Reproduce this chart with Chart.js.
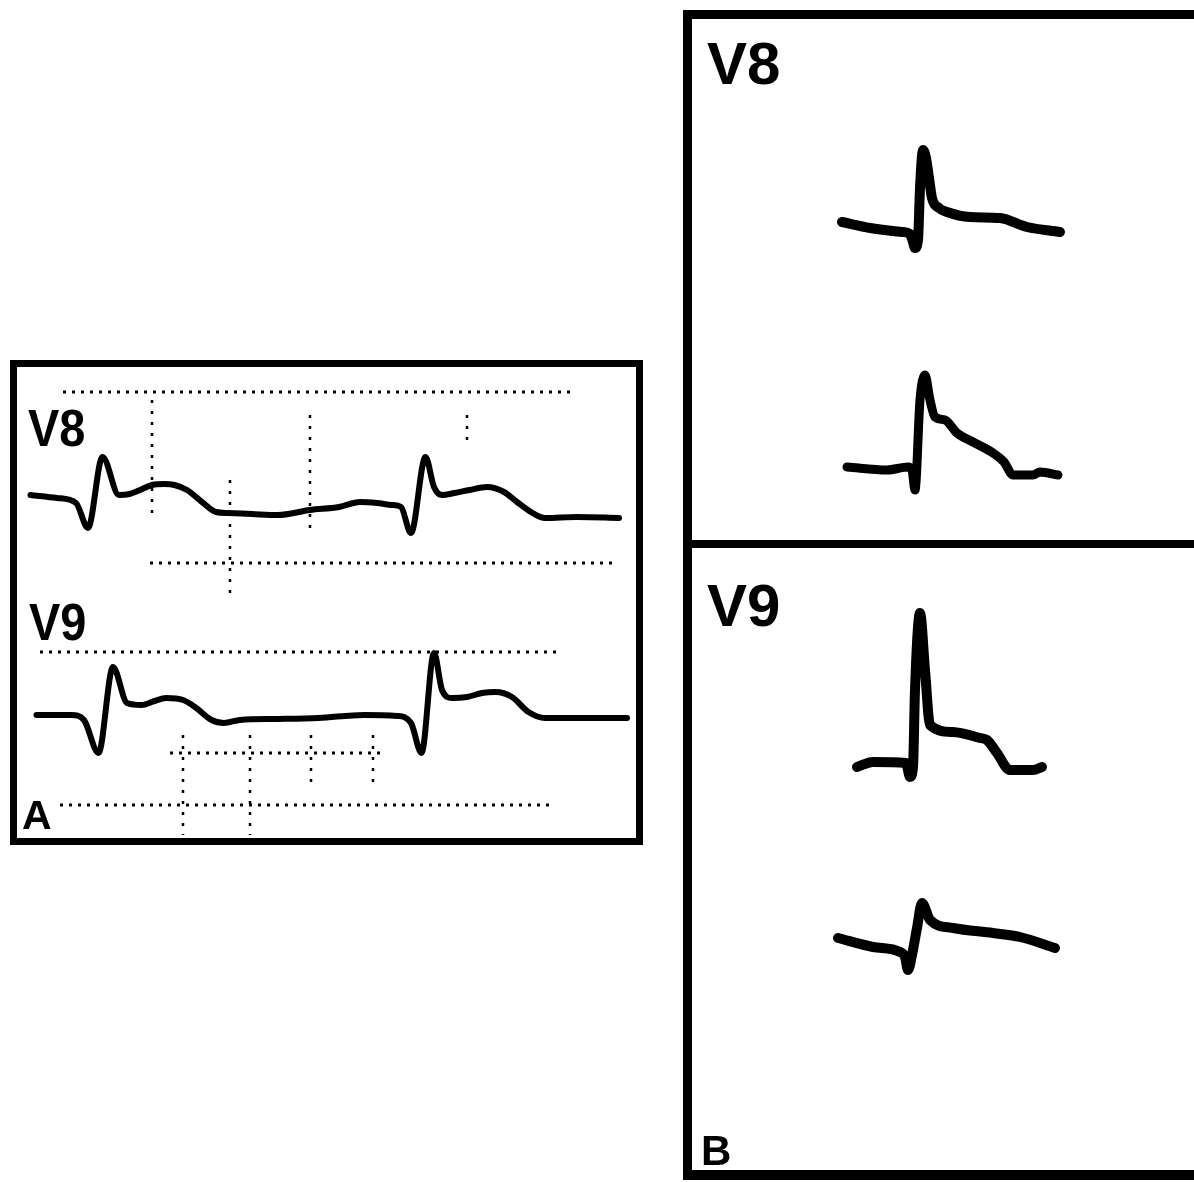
<!DOCTYPE html>
<html>
<head>
<meta charset="utf-8">
<title>V8 / V9 ECG</title>
<script src="https://cdn.jsdelivr.net/npm/chart.js@4.4.1/dist/chart.umd.min.js"></script>
<style>
  html, body { margin: 0; padding: 0; background: #fff; }
  body { width: 1194px; height: 1182px; position: relative; overflow: hidden;
         font-family: "Liberation Sans", Arial, Helvetica, sans-serif; }
  .box { position: absolute; box-sizing: border-box; border: solid #000; }
  .rule { position: absolute; background: #000; }
  .lbl { position: absolute; font-weight: bold; line-height: 1; color: #000; white-space: nowrap; }
  canvas { position: absolute; }
</style>
</head>
<body>
<div class="box" style="left:10px;top:360px;width:633px;height:485px;border-width:7px"></div>
<div class="box" style="left:683px;top:10px;width:511px;height:1170px;border-width:9px 0 10px 9px"></div>
<div class="rule" style="left:683px;top:540px;width:511px;height:8px"></div>

<canvas id="chart-a" width="619" height="471" style="left:17px;top:367px"></canvas>
<canvas id="chart-b8" width="502" height="521" style="left:692px;top:19px"></canvas>
<canvas id="chart-b9" width="502" height="622" style="left:692px;top:548px"></canvas>

<div class="lbl" style="left:28px;top:403px;font-size:51px;transform:scaleX(0.92);transform-origin:left">V8</div>
<div class="lbl" style="left:29px;top:597px;font-size:51px;transform:scaleX(0.92);transform-origin:left">V9</div>
<div class="lbl" style="left:22px;top:795px;font-size:41px">A</div>
<div class="lbl" style="left:707px;top:34px;font-size:60px">V8</div>
<div class="lbl" style="left:707px;top:576px;font-size:60px">V9</div>
<div class="lbl" style="left:701px;top:1130px;font-size:42px">B</div>

<script>
(function () {
  'use strict';

  /* Panel A — two beats per lead, time in ms, amplitude in mV */
  var A_V8_MS = [27, 80, 118, 142, 171, 204, 225, 246, 270, 295, 315, 340, 370, 398, 422, 470, 521, 586, 644, 686, 720, 750, 768, 788, 817, 834, 850, 875, 905, 940, 974, 1000, 1031, 1056, 1120, 1204];
  var A_V8_MV = [0.20, 0.14, 0.04, -0.46, 0.96, 0.20, 0.22, 0.30, 0.40, 0.42, 0.40, 0.30, 0.06, -0.14, -0.16, -0.18, -0.20, -0.10, -0.04, 0.06, 0.04, 0.00, -0.04, -0.56, 0.96, 0.36, 0.20, 0.24, 0.30, 0.36, 0.26, 0.06, -0.16, -0.26, -0.24, -0.26];

  var A_V9_MS = [39, 109, 134, 163, 192, 220, 249, 275, 298, 332, 356, 389, 414, 446, 520, 603, 694, 760, 788, 809, 834, 850, 870, 900, 930, 957, 990, 1023, 1056, 1140, 1220];
  var A_V9_MV = [0.06, 0.06, -0.04, -0.70, 1.02, 0.30, 0.26, 0.34, 0.40, 0.36, 0.22, -0.04, -0.10, -0.04, -0.02, 0.00, 0.06, 0.04, -0.10, -0.70, 1.30, 0.56, 0.40, 0.42, 0.50, 0.52, 0.42, 0.12, 0.00, 0.00, 0.00];

  /* dotted paper marks in panel A: [lead, from ms, to ms, mV] and [lead, ms, from mV, to mV] */
  var A_MARK_ROWS = [
    ['v8', 92, 1114, 2.26],
    ['v8', 266, 1190, -1.16],
    ['v9', 46, 1086, 1.32],
    ['v9', 306, 736, -0.70],
    ['v9', 86, 1066, -1.74]
  ];
  var A_MARK_COLS = [
    ['v8', 270, 2.10, -0.20],
    ['v8', 586, 1.80, -0.50],
    ['v8', 900, 1.80, 1.30],
    ['v8', 426, 0.50, -1.90],
    ['v9', 332, -0.34, -2.34],
    ['v9', 466, -0.34, -2.34],
    ['v9', 588, -0.34, -1.44],
    ['v9', 712, -0.34, -1.44]
  ];

  /* Panel B — single complexes, expanded time base */
  var B_V8_UP_MS = [150, 178, 210, 218, 221, 223, 226, 228, 231, 234, 237, 240, 247, 255, 278, 308, 335, 368];
  var B_V8_UP_MV = [0.06, 0.00, -0.04, -0.06, -0.14, -0.20, -0.12, 0.40, 0.78, 0.70, 0.50, 0.30, 0.20, 0.16, 0.11, 0.10, 0.01, -0.04];

  var B_V8_LO_MS = [155, 195, 216, 220, 223, 228, 233, 238, 243, 253, 265, 281, 301, 312, 321, 341, 348, 366];
  var B_V8_LO_MV = [0.03, 0.00, 0.03, 0.00, -0.20, 0.70, 0.95, 0.70, 0.53, 0.50, 0.37, 0.28, 0.17, 0.08, -0.05, -0.05, -0.02, -0.05];

  var B_V9_UP_MS = [165, 181, 214, 218, 221, 223, 228, 233, 238, 261, 288, 295, 305, 318, 341, 350];
  var B_V9_UP_MV = [-0.02, 0.03, 0.02, -0.12, -0.02, 0.75, 1.52, 0.95, 0.40, 0.33, 0.27, 0.25, 0.12, -0.05, -0.05, -0.02];

  var B_V9_LO_MS = [146, 181, 208, 213, 216, 220, 225, 230, 238, 261, 301, 328, 363];
  var B_V9_LO_MV = [0.07, -0.02, -0.07, -0.12, -0.25, -0.10, 0.17, 0.42, 0.25, 0.17, 0.12, 0.08, -0.03];

  function pts(ms, mv) {
    return ms.map(function (t, i) { return { x: t, y: mv[i] }; });
  }

  function trace(ms, mv, axis, width) {
    return {
      data: pts(ms, mv),
      yAxisID: axis,
      borderColor: '#000',
      borderWidth: width,
      borderJoinStyle: 'round',
      borderCapStyle: 'round',
      cubicInterpolationMode: 'monotone',
      pointRadius: 0,
      fill: false
    };
  }

  function marks(axisMap) {
    var out = [];
    A_MARK_ROWS.forEach(function (r) {
      out.push({ data: [{ x: r[1], y: r[3] }, { x: r[2], y: r[3] }], yAxisID: axisMap[r[0]],
        borderColor: '#000', borderWidth: 3, borderDash: [3, 6], pointRadius: 0, fill: false });
    });
    A_MARK_COLS.forEach(function (c) {
      out.push({ data: [{ x: c[1], y: c[2] }, { x: c[1], y: c[3] }], yAxisID: axisMap[c[0]],
        borderColor: '#000', borderWidth: 2.5, borderDash: [3, 8], pointRadius: 0, fill: false });
    });
    return out;
  }

  function hidden(min, max) {
    return { type: 'linear', display: false, min: min, max: max };
  }

  function makeChart(id, xMax, yScales, datasets) {
    var scales = { x: hidden(0, xMax) };
    Object.keys(yScales).forEach(function (k) { scales[k] = yScales[k]; });
    return new Chart(document.getElementById(id), {
      type: 'line',
      data: { datasets: datasets },
      options: {
        responsive: false,
        animation: false,
        devicePixelRatio: 1,
        layout: { padding: 0 },
        plugins: { legend: { display: false }, tooltip: { enabled: false } },
        scales: scales
      }
    });
  }

  makeChart('chart-a', 1238,
    { yV8: hidden(-6.66, 2.76), yV9: hidden(-2.40, 7.02) },
    marks({ v8: 'yV8', v9: 'yV9' }).concat([
      trace(A_V8_MS, A_V8_MV, 'yV8', 6),
      trace(A_V9_MS, A_V9_MV, 'yV9', 6)
    ]));

  makeChart('chart-b8', 502,
    { yUp: hidden(-3.12, 2.09), yLo: hidden(-0.70, 4.51) },
    [trace(B_V8_UP_MS, B_V8_UP_MV, 'yUp', 10), trace(B_V8_LO_MS, B_V8_LO_MV, 'yLo', 9)]);

  makeChart('chart-b9', 502,
    { yUp: hidden(-4.05, 2.17), yLo: hidden(-2.25, 3.97) },
    [trace(B_V9_UP_MS, B_V9_UP_MV, 'yUp', 10), trace(B_V9_LO_MS, B_V9_LO_MV, 'yLo', 10)]);
})();
</script>
</body>
</html>
